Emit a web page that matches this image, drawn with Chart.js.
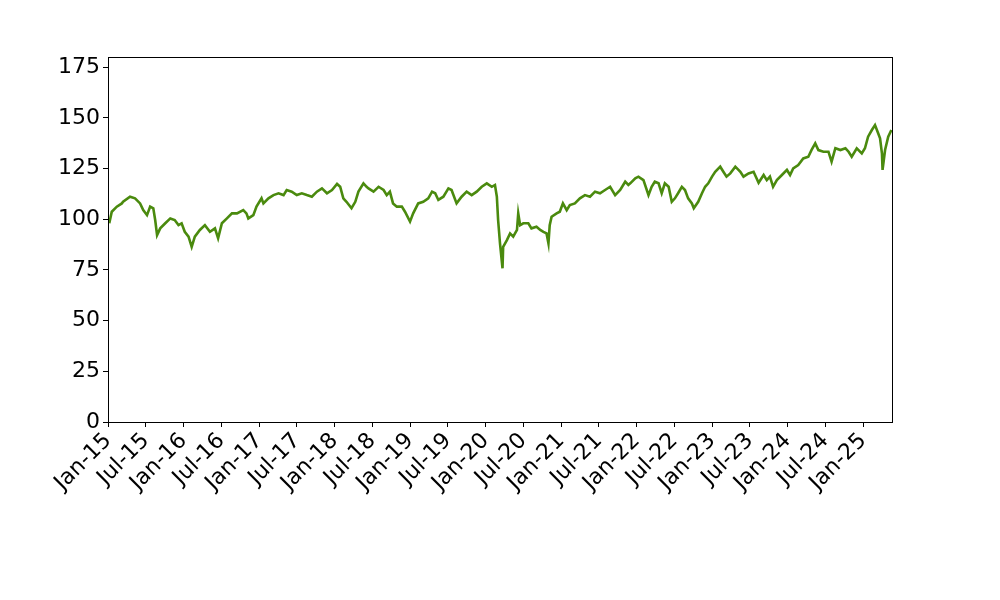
<!DOCTYPE html>
<html>
<head>
<meta charset="utf-8">
<script src="https://cdn.jsdelivr.net/npm/chart.js@4"></script>
<style>
  html, body { margin: 0; padding: 0; background: #fff; }
  #wrap { width: 1000px; height: 600px; position: relative; }
</style>
</head>
<body>
<div id="wrap"><canvas id="c" width="1000" height="600"></canvas></div>
<script>
// months since Jan 2015
const months = [
  0.2, 0.6, 1.4, 2.2, 2.4, 3.5, 4.3, 5.1, 5.6, 6.2, 6.7, 7.2, 7.5, 7.8, 8.3, 9.1, 9.9, 10.6, 11.2, 11.7,
  12.2, 12.8, 13.3, 13.8, 14.6, 15.4, 16.2, 17.0, 17.5, 18.1, 18.9, 19.7, 20.5,
  21.5, 22.0, 22.3, 23.1, 23.6, 24.4, 24.7, 25.5, 26.3, 27.1, 27.9, 28.4, 29.2, 30.0, 30.8, 31.6, 32.4,
  33.2, 34.0, 34.8, 35.6, 36.4, 36.9, 37.4, 37.9, 38.7, 39.3, 39.8, 40.6, 41.1,
  41.4, 42.2, 43.0, 43.8, 44.3, 44.8, 45.3, 45.9, 46.7, 47.2, 48.0, 48.5, 49.3, 50.1, 50.9, 51.5, 52.0,
  52.5, 53.3, 54.1, 54.6, 55.4, 56.2, 57.0, 57.8, 58.6, 59.4, 60.2, 61.0, 61.5, 61.8, 62.0, 62.3, 62.7,
  62.8, 63.4, 63.9, 64.4, 65.0, 65.2, 65.5, 66.0, 66.8, 67.3, 68.1, 68.7, 69.2, 69.7, 70.0, 70.2, 70.5,
  71.3, 71.8, 72.3, 72.9, 73.4, 74.2, 75.0, 75.8, 76.6, 77.4, 78.2, 79.0, 79.8, 80.6, 81.4, 82.2, 82.7,
  83.0, 83.8, 84.3, 85.1, 85.9, 86.4, 86.9, 87.5, 88.0, 88.5, 89.1, 89.6, 90.1, 90.6, 91.2, 91.7, 92.2,
  92.8, 93.1, 93.8, 94.4, 94.9, 95.4, 96.0, 96.5, 97.3, 97.8, 98.3, 98.9, 99.7, 100.5, 101.0, 101.8, 102.6,
  103.4, 104.2, 104.7, 105.2, 105.7, 106.3, 107.1, 107.9, 108.4, 108.9, 109.7, 110.5, 111.3, 111.8, 112.4,
  112.9, 113.7, 114.5, 115.0, 115.6, 116.4, 117.2, 117.7, 118.2, 119.0, 119.8, 120.3, 120.8, 121.4, 121.9,
  122.4, 122.7, 123.0, 123.1, 123.5, 124.0, 124.5
];
const values = [
  98, 103.7, 106.2, 107.8, 108.6, 111.1, 110.3, 107.8, 104.5, 102, 106.2, 105.4, 99.6, 92.2, 95.5, 98, 100.4, 99.6, 97.1, 98,
  93.8, 91.4, 86.4, 91.4, 94.7, 97.1, 93.8, 95.5, 90.6, 98, 100.4, 102.9, 102.9,
  104.5, 102.9, 100.4, 102, 106.2, 110.3, 107.8, 110.3, 111.9, 112.8, 111.9, 114.4, 113.6, 111.9, 112.8, 111.9, 111.1,
  113.6, 115.2, 112.8, 114.4, 117.4, 116, 110.3, 108.6, 105.4, 108.6, 113.6, 117.7, 116,
  115.2, 113.6, 116, 114.4, 111.9, 113.6, 107.8, 106.2, 106.2, 103.7, 98.8, 102.9, 107.8, 108.6, 110.3, 113.6, 112.8,
  109.5, 111.1, 115.2, 114.4, 107.8, 111.1, 113.6, 111.9, 113.6, 116, 117.7, 116, 116.9, 111.1, 99.6, 88.1, 75.8,
  86.4, 89.7, 93, 91.4, 94.7, 102.9, 97.1, 98, 98, 95.5, 96.3, 94.7, 93.8, 93, 88.1, 97.1, 101.2,
  102.9, 103.7, 107.8, 104.5, 107, 107.8, 110.3, 111.9, 111.1, 113.6, 112.8, 114.4, 116, 111.9, 114.4, 118.5, 116.9,
  117.7, 120.2, 121, 119.3, 111.9, 116, 118.5, 117.7, 112.8, 117.7, 116, 108.6, 110.3, 112.8, 116, 114.4, 110.3,
  107.8, 105.4, 108.6, 112.8, 116, 117.7, 121, 123.4, 125.9, 123.4, 121, 122.6, 125.9, 123.4, 121, 122.6, 123.4,
  118, 121.8, 119.3, 121, 116, 119.3, 121.8, 124.3, 121.8, 125.1, 126.7, 130, 130.8, 134.1, 137.4,
  134.1, 133.3, 133.3, 128.4, 135, 134.1, 135, 133.3, 130.8, 135, 132.5, 135, 140.7, 144, 146.4,
  142.4, 139.9, 132.5, 124.3, 134.1, 140.7, 144
];
const tickMonths = [0, 6, 12, 18, 24, 30, 36, 42, 48, 54, 60, 66, 72, 78, 84, 90, 96, 102, 108, 114, 120];
const tickLabels = ['Jan-15', 'Jul-15', 'Jan-16', 'Jul-16', 'Jan-17', 'Jul-17', 'Jan-18', 'Jul-18', 'Jan-19', 'Jul-19',
  'Jan-20', 'Jul-20', 'Jan-21', 'Jul-21', 'Jan-22', 'Jul-22', 'Jan-23', 'Jul-23', 'Jan-24', 'Jul-24', 'Jan-25'];
const yTicks = [0, 25, 50, 75, 100, 125, 150, 175];

const FONT = { family: 'DejaVu Sans', size: 22 };

// box around the plot area, like matplotlib spines
const frame = {
  id: 'frame',
  afterDraw(chart) {
    const a = chart.chartArea, ctx = chart.ctx;
    ctx.save();
    ctx.strokeStyle = '#000';
    ctx.lineWidth = 1;
    ctx.strokeRect(Math.round(a.left) + 0.5, Math.round(a.top) + 0.5, Math.round(a.right - a.left), Math.round(a.bottom - a.top));
    ctx.restore();
  }
};

new Chart(document.getElementById('c'), {
  type: 'line',
  data: {
    datasets: [{
      data: months.map((m, i) => ({ x: m, y: values[i] })),
      borderColor: '#4a8a0e',
      borderWidth: 2.6,
      pointRadius: 0,
      tension: 0,
      fill: false
    }]
  },
  options: {
    responsive: false,
    animation: false,
    layout: { padding: { left: 0, top: 57, right: 108, bottom: 0 } },
    plugins: { legend: { display: false }, tooltip: { enabled: false } },
    scales: {
      x: {
        type: 'linear',
        min: 0,
        max: 124.6,
        afterFit(s) { s.height = 178; },
        afterBuildTicks(s) { s.ticks = tickMonths.map((v) => ({ value: v })); },
        grid: { display: true, drawOnChartArea: false, drawTicks: true, tickLength: 5, color: '#000' },
        border: { display: false },
        ticks: {
          autoSkip: false,
          minRotation: 45,
          maxRotation: 45,
          padding: 1,
          color: '#000',
          font: FONT,
          callback: (v) => tickLabels[tickMonths.indexOf(v)]
        }
      },
      y: {
        min: 0,
        max: 180,
        afterFit(s) { s.width = 108; },
        afterBuildTicks(s) { s.ticks = yTicks.map((v) => ({ value: v })); },
        grid: { display: true, drawOnChartArea: false, drawTicks: true, tickLength: 5, color: '#000' },
        border: { display: false },
        ticks: { padding: 3, color: '#000', font: FONT }
      }
    }
  },
  plugins: [frame]
});
</script>
</body>
</html>
